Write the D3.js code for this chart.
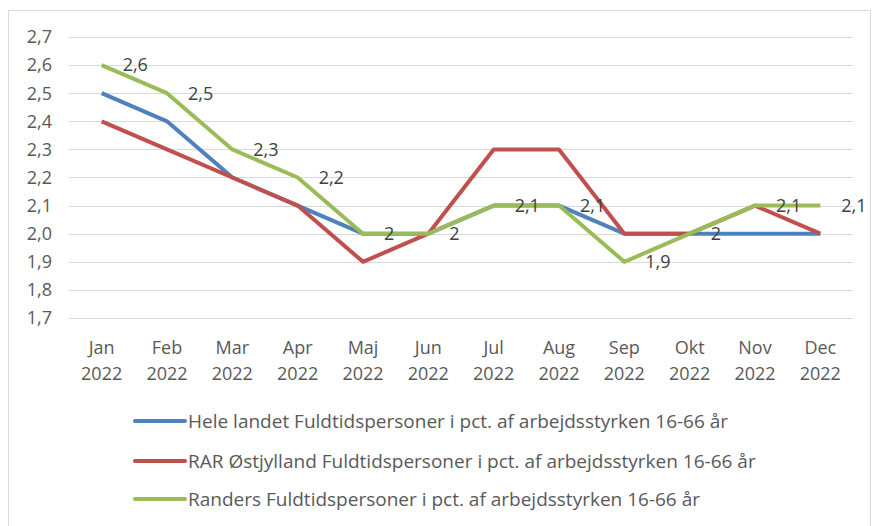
<!DOCTYPE html>
<html>
<head>
<meta charset="utf-8">
<script src="https://cdn.jsdelivr.net/npm/d3@7"></script>
<style>
  body { margin: 0; background: #fff; }
  svg { display: block; }
  text { font-family: "Open Sans", sans-serif; fill: #595959; }
</style>
</head>
<body>
<svg id="chart" width="874" height="526"></svg>
<script>
// data
const months = ["Jan", "Feb", "Mar", "Apr", "Maj", "Jun", "Jul", "Aug", "Sep", "Okt", "Nov", "Dec"];
const year = "2022";
const seriesNames = [
  "Hele landet Fuldtidspersoner i pct. af arbejdsstyrken 16-66 år",
  "RAR Østjylland Fuldtidspersoner i pct. af arbejdsstyrken 16-66 år",
  "Randers Fuldtidspersoner i pct. af arbejdsstyrken 16-66 år"
];
const heleLandet = [2.5, 2.4, 2.2, 2.1, 2.0, 2.0, 2.1, 2.1, 2.0, 2.0, 2.0, 2.0];
const rarOstjylland = [2.4, 2.3, 2.2, 2.1, 1.9, 2.0, 2.3, 2.3, 2.0, 2.0, 2.1, 2.0];
const randers = [2.6, 2.5, 2.3, 2.2, 2.0, 2.0, 2.1, 2.1, 1.9, 2.0, 2.1, 2.1];
const yTicks = [1.7, 1.8, 1.9, 2.0, 2.1, 2.2, 2.3, 2.4, 2.5, 2.6, 2.7];
const colors = ["#4f81bd", "#c0504d", "#9bbb59"];

const allSeries = [heleLandet, rarOstjylland, randers];

const svg = d3.select("#chart");

// chart frame
svg.append("rect")
    .attr("x", 8.5).attr("y", 10.5)
    .attr("width", 862).attr("height", 530)
    .attr("fill", "none")
    .attr("stroke", "#d9d9d9");

const x = d3.scaleBand().domain(months).range([69, 853]);
const y = d3.scaleLinear().domain([1.7, 2.7]).range([318, 37]);
const fmt = v => d3.format(".1f")(v).replace(".", ",");

// grid
svg.append("g")
    .selectAll("line")
    .data(yTicks)
    .join("line")
    .attr("x1", 69).attr("x2", 853)
    .attr("y1", d => Math.round(y(d)) + 0.5)
    .attr("y2", d => Math.round(y(d)) + 0.5)
    .attr("stroke", "#d9d9d9");

// y axis labels
svg.append("g")
    .selectAll("text")
    .data(yTicks)
    .join("text")
    .attr("x", 52)
    .attr("y", d => y(d))
    .attr("dy", "0.35em")
    .attr("text-anchor", "end")
    .style("font-size", "18px")
    .text(fmt);

// x axis labels
const xl = svg.append("g")
    .selectAll("text")
    .data(months)
    .join("text")
    .attr("text-anchor", "middle")
    .style("font-size", "18px");
xl.append("tspan").attr("x", d => x(d) + x.bandwidth() / 2).attr("y", 354).text(d => d);
xl.append("tspan").attr("x", d => x(d) + x.bandwidth() / 2).attr("y", 380).text(year);

// lines
const line = d3.line()
    .x((d, i) => x(months[i]) + x.bandwidth() / 2)
    .y(d => y(d));

svg.append("g")
    .selectAll("path")
    .data(allSeries)
    .join("path")
    .attr("d", line)
    .attr("fill", "none")
    .attr("stroke", (d, i) => colors[i])
    .attr("stroke-width", 4)
    .attr("stroke-linejoin", "round");

// data labels, Randers only
svg.append("g")
    .selectAll("text")
    .data(randers)
    .join("text")
    .attr("x", (d, i) => x(months[i]) + x.bandwidth() / 2 + 21)
    .attr("y", d => y(d))
    .attr("dy", "0.35em")
    .style("font-size", "18px")
    .style("fill", "#404040")
    .text(d => d === 2 ? "2" : fmt(d));

// legend
const legendY = [421, 461, 499];
const lg = svg.append("g")
    .selectAll("g")
    .data(seriesNames)
    .join("g")
    .attr("transform", (d, i) => `translate(0,${legendY[i]})`);
lg.append("line")
    .attr("x1", 135).attr("x2", 185)
    .attr("stroke", (d, i) => colors[i])
    .attr("stroke-width", 4)
    .attr("stroke-linecap", "round");
lg.append("text")
    .attr("x", 188)
    .attr("dy", "0.35em")
    .style("font-size", "19px")
    .text(d => d);
</script>
</body>
</html>
